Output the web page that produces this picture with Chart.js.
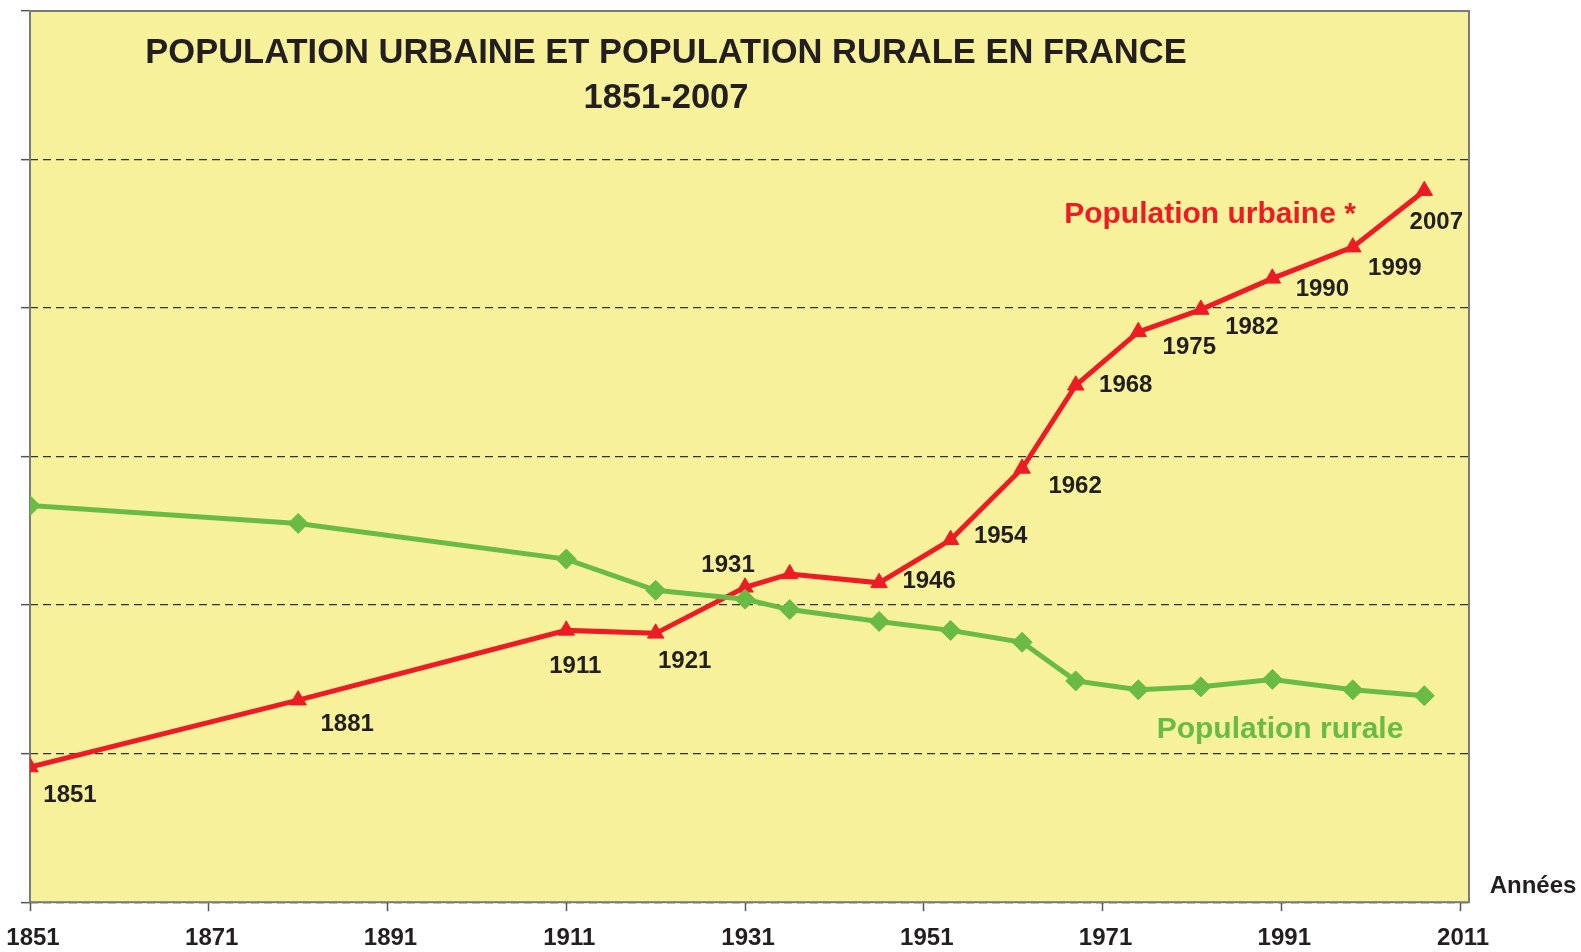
<!DOCTYPE html>
<html>
<head>
<meta charset="utf-8">
<script src="https://cdn.jsdelivr.net/npm/chart.js@4/dist/chart.umd.min.js"></script>
<style>
  html, body { margin: 0; padding: 0; background: #ffffff; }
  canvas { display: block; }
</style>
</head>
<body>
<canvas id="c" width="1581" height="952"></canvas>
<script>
// ---- data (millions d'habitants) ----
const years = [1851, 1881, 1911, 1921, 1931, 1936, 1946, 1954, 1962, 1968, 1975, 1982, 1990, 1999, 2007];
const urbanPop = [9.1, 13.6, 18.3, 18.1, 21.2, 22.1, 21.5, 24.4, 29.2, 34.8, 38.4, 39.9, 42.0, 44.1, 47.9];
const ruralPop = [26.7, 25.5, 23.1, 21.0, 20.4, 19.7, 18.9, 18.3, 17.5, 14.9, 14.3, 14.5, 15.0, 14.3, 13.9];
const urbanPointLabels = ['1851', '1881', '1911', '1921', '1931', '', '1946', '1954', '1962', '1968', '1975', '1982', '1990', '1999', '2007'];
const xTickYears = [1851, 1871, 1891, 1911, 1931, 1951, 1971, 1991, 2011];
const titleLines = ['POPULATION URBAINE ET POPULATION RURALE EN FRANCE', '1851-2007'];
const urbanSeriesName = 'Population urbaine *';
const ruralSeriesName = 'Population rurale';
const xAxisName = 'Années';

// ---- styles ----
const FONT = "'Liberation Sans', Arial, sans-serif";
const RED = '#ed1c24';
const GREEN = '#6abb45';
const TEXT = '#231f20';
const PLOT_BG = '#f6f19a';

// label offsets (px) relative to each urban point, indexed like years
const labelOffsets = [[40, 28], [49, 24], [9, 36], [29, 28], [-17, -22], [0, 0], [50, -1], [50, -3], [53, 18], [50, 0], [51, 16], [51, 18], [50, 11], [42, 21], [12, 32]];

const decorPlugin = {
  id: 'decor',
  beforeDraw(chart) {
    const { ctx, chartArea: a } = chart;
    ctx.save();
    ctx.fillStyle = PLOT_BG;
    ctx.fillRect(a.left, a.top, a.right - a.left, a.bottom - a.top);
    ctx.restore();
  },
  beforeDatasetsDraw(chart) {
    const { ctx, chartArea: a } = chart;
    ctx.save();
    ctx.strokeStyle = '#7a7a7a';
    ctx.lineWidth = 2;
    ctx.strokeRect(a.left, a.top, a.right - a.left, a.bottom - a.top);
    ctx.restore();
  },
  afterDatasetsDraw(chart) {
    const { ctx } = chart;
    ctx.save();
    // title
    ctx.fillStyle = TEXT;
    ctx.textAlign = 'center';
    ctx.textBaseline = 'middle';
    ctx.font = 'bold 34.5px ' + FONT;
    ctx.fillText(titleLines[0], 666, 53);
    ctx.fillText(titleLines[1], 666, 98);

    // point labels on urban series
    const meta = chart.getDatasetMeta(1);
    ctx.font = 'bold 24px ' + FONT;
    meta.data.forEach((pt, i) => {
      const t = urbanPointLabels[i];
      if (!t) return;
      const off = labelOffsets[i];
      ctx.fillText(t, pt.x + off[0], pt.y + off[1]);
    });

    // series names
    ctx.font = 'bold 30px ' + FONT;
    ctx.fillStyle = RED;
    ctx.fillText(urbanSeriesName, 1210, 215);
    ctx.fillStyle = GREEN;
    ctx.fillText(ruralSeriesName, 1280, 730);

    // axis name
    ctx.fillStyle = TEXT;
    ctx.font = 'bold 24px ' + FONT;
    ctx.fillText(xAxisName, 1533, 886);
    ctx.restore();
  }
};

new Chart(document.getElementById('c'), {
  type: 'line',
  data: {
    datasets: [
      {
        label: ruralSeriesName,
        data: years.map((y, i) => ({ x: y, y: ruralPop[i] })),
        borderColor: GREEN,
        backgroundColor: GREEN,
        borderWidth: 5,
        pointStyle: 'rectRot',
        pointRadius: 10,
        pointBorderWidth: 1,
        pointBackgroundColor: GREEN,
        pointBorderColor: GREEN,
        tension: 0,
        fill: false
      },
      {
        label: urbanSeriesName,
        data: years.map((y, i) => ({ x: y, y: urbanPop[i] })),
        borderColor: RED,
        backgroundColor: RED,
        borderWidth: 5,
        pointStyle: 'triangle',
        pointRadius: 9.5,
        pointBorderWidth: 1,
        pointBackgroundColor: RED,
        pointBorderColor: RED,
        tension: 0,
        fill: false
      }
    ]
  },
  options: {
    responsive: false,
    animation: false,
    devicePixelRatio: 1,
    layout: { padding: { left: 21, right: 112, top: 9, bottom: -14 } },
    plugins: {
      legend: { display: false },
      tooltip: { enabled: false },
      title: { display: false }
    },
    scales: {
      x: {
        type: 'linear',
        min: 1851,
        max: 2012,
        afterBuildTicks(scale) {
          scale.ticks = xTickYears.map(v => ({ value: v }));
        },
        afterFit(scale) {
          scale.paddingLeft = 0;
          scale.paddingRight = 0;
        },
        grid: {
          drawOnChartArea: false,
          drawTicks: true,
          tickLength: 9,
          tickColor: '#555555',
          tickWidth: 1.5
        },
        border: { display: false },
        ticks: {
          autoSkip: false,
          maxRotation: 0,
          padding: 13,
          labelOffset: 3,
          color: TEXT,
          font: { family: FONT, size: 24, weight: 'bold' },
          callback: v => String(v)
        }
      },
      y: {
        min: 0,
        max: 60,
        ticks: { stepSize: 10, display: false },
        grid: {
          color: '#333333',
          lineWidth: 1.3,
          drawTicks: true,
          tickLength: 9,
          tickColor: '#555555',
          tickWidth: 1.5,
          tickBorderDash: []
        },
        border: { display: false, dash: [8, 5] }
      }
    }
  },
  plugins: [decorPlugin]
});
</script>
</body>
</html>
